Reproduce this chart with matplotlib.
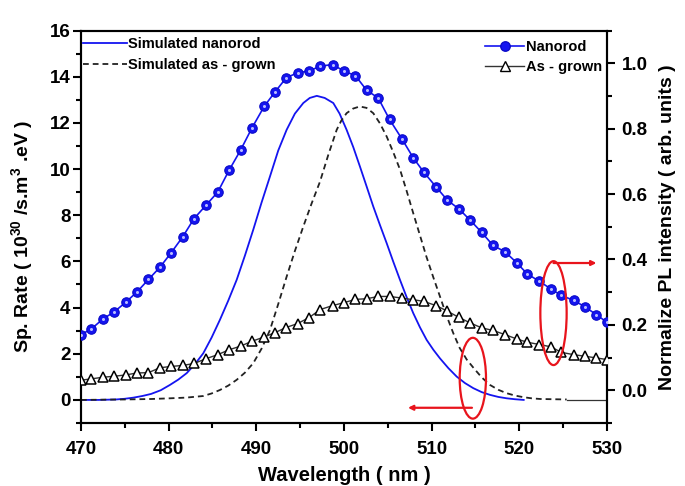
import matplotlib
matplotlib.use('Agg')
import matplotlib.pyplot as plt
from matplotlib.patches import Ellipse
from matplotlib.ticker import MultipleLocator, FormatStrFormatter
from matplotlib.lines import Line2D

plt.rcParams['font.family'] = ['Liberation Sans', 'DejaVu Sans']
plt.rcParams['font.weight'] = 'bold'
plt.rcParams['mathtext.fontset'] = 'custom'
plt.rcParams['mathtext.rm'] = 'Liberation Sans:bold'
plt.rcParams['mathtext.default'] = 'rm'

# ---------------- data ----------------
wl_exp = [470.0, 471.2, 472.5, 473.8, 475.1, 476.4, 477.7, 479.0, 480.3, 481.6,
          482.9, 484.3, 485.6, 486.9, 488.2, 489.5, 490.9, 492.1, 493.4, 494.7,
          496.0, 497.3, 498.7, 500.0, 501.3, 502.6, 503.9, 505.2, 506.6, 507.9,
          509.1, 510.5, 511.8, 513.1, 514.4, 515.7, 517.0, 518.4, 519.7, 520.9,
          522.3, 523.6, 524.8, 526.2, 527.5, 528.8, 530.0]

pl_nanorod = [0.170, 0.188, 0.218, 0.240, 0.269, 0.301, 0.339, 0.376, 0.421, 0.469,
              0.525, 0.567, 0.606, 0.673, 0.734, 0.802, 0.868, 0.911, 0.955, 0.971,
              0.976, 0.991, 0.996, 0.976, 0.962, 0.917, 0.894, 0.828, 0.769, 0.711,
              0.667, 0.622, 0.581, 0.555, 0.520, 0.483, 0.443, 0.423, 0.390, 0.356,
              0.333, 0.310, 0.290, 0.275, 0.255, 0.231, 0.208]

pl_asgrown = [0.031, 0.035, 0.040, 0.043, 0.047, 0.053, 0.054, 0.069, 0.073, 0.076,
              0.082, 0.097, 0.109, 0.124, 0.135, 0.150, 0.163, 0.176, 0.192, 0.204,
              0.222, 0.247, 0.259, 0.268, 0.278, 0.280, 0.287, 0.287, 0.282, 0.277,
              0.272, 0.259, 0.242, 0.223, 0.206, 0.191, 0.183, 0.170, 0.157, 0.147,
              0.140, 0.133, 0.116, 0.109, 0.104, 0.099, 0.094]

wl_sim_nr = [470.0, 472.0, 474.0, 475.0, 476.0, 477.0, 478.0, 479.1, 480.15, 481.1,
             482.06, 483.0, 483.95, 484.9, 485.85, 486.8, 487.76, 488.7, 489.65, 490.6,
             491.56, 492.5, 493.46, 494.4, 495.36, 496.1, 496.9, 497.8, 498.78, 499.5,
             500.3, 501.06, 501.82, 502.58, 503.34, 504.1, 504.87, 505.63, 506.39, 507.15,
             507.9, 508.66, 509.43, 510.2, 510.95, 511.9, 512.86, 513.8, 514.75, 515.7,
             516.65, 517.6, 518.56, 519.5, 520.5]
sim_nanorod = [0.0, 0.0, 0.02, 0.05, 0.10, 0.17, 0.26, 0.42, 0.65, 0.88,
               1.16, 1.55, 2.02, 2.70, 3.47, 4.30, 5.20, 6.25, 7.37, 8.55,
               9.68, 10.80, 11.70, 12.40, 12.86, 13.08, 13.17, 13.08, 12.86, 12.40,
               11.70, 10.95, 10.11, 9.25, 8.38, 7.58, 6.79, 5.98, 5.20, 4.45,
               3.76, 3.15, 2.60, 2.17, 1.80, 1.38, 1.01, 0.73, 0.51, 0.34,
               0.22, 0.13, 0.07, 0.03, 0.0]

wl_sim_ag = [470.0, 475.0, 478.0, 480.15, 482.0, 483.95, 484.9, 485.85, 486.8, 487.76,
             488.7, 489.65, 490.6, 491.56, 492.5, 493.46, 494.4, 495.36, 496.3, 497.26,
             498.2, 499.17, 499.7, 500.3, 501.05, 501.8, 502.57, 503.34, 504.1, 504.87,
             505.63, 506.4, 507.15, 507.9, 508.65, 509.4, 510.2, 510.95, 511.7, 512.47,
             513.2, 514.0, 514.75, 515.7, 516.65, 517.6, 518.56, 519.5, 520.45, 521.4,
             522.4, 525.4]
sim_asgrown = [0.0, 0.02, 0.04, 0.07, 0.10, 0.17, 0.28, 0.43, 0.62, 0.87,
               1.18, 1.59, 2.22, 3.03, 4.15, 5.34, 6.45, 7.51, 8.50, 9.45,
               10.60, 11.70, 12.10, 12.42, 12.62, 12.71, 12.65, 12.42, 11.98, 11.41,
               10.72, 9.97, 9.05, 8.09, 7.15, 6.21, 5.30, 4.48, 3.65, 2.89,
               2.25, 1.75, 1.40, 0.98, 0.65, 0.44, 0.29, 0.19, 0.12, 0.07,
               0.04, 0.02]

wl_base = [525.4, 530.0]
base_vals = [0.0, 0.0]

# annotation geometry (left-axis data units)
ell1 = dict(center=(514.7, 0.94), w=3.0, h=3.5)
ell2 = dict(center=(523.9, 3.76), w=3.0, h=4.5)
arrow1 = dict(start=(514.6, -0.34), end=(507.3, -0.34))
arrow2 = dict(start=(523.9, 5.93), end=(528.8, 5.93))

BLUE = '#1414f0'
RED = '#e8141c'

fig = plt.figure(figsize=(6.85, 4.86), dpi=100)
ax = fig.add_axes([0.1182, 0.1296, 0.7679, 0.8076])
ax2 = ax.twinx()

ax.plot(wl_sim_nr, sim_nanorod, color=BLUE, lw=1.3, zorder=3)
ax.plot(wl_sim_ag, sim_asgrown, color='#222222', lw=1.3, ls=(0, (3.2, 2.2)), zorder=3)
ax.plot(wl_base, base_vals, color='#333333', lw=0.9, zorder=2)

ax2.plot(wl_exp, pl_asgrown, color='#333333', lw=1.0, marker='^', ms=7,
         mfc='white', mec='black', mew=1.1, zorder=3)
ax2.plot(wl_exp, pl_nanorod, color=BLUE, lw=1.2, marker='o', ms=6.8,
         mfc=BLUE, mec='#0a0ac8', mew=0.8, zorder=4)
ax2.plot(wl_exp, pl_nanorod, ls='none', marker='o', ms=2.2,
         mfc='#b8bcff', mec='none', zorder=5)

ax.set_xlim(470, 530)
ax.set_ylim(-1, 16)
ax2.set_ylim(-0.1, 1.1)

ax.xaxis.set_major_locator(MultipleLocator(10))
ax.xaxis.set_minor_locator(MultipleLocator(5))
ax.yaxis.set_major_locator(MultipleLocator(2))
ax.yaxis.set_minor_locator(MultipleLocator(1))
ax2.yaxis.set_major_locator(MultipleLocator(0.2))
ax2.yaxis.set_minor_locator(MultipleLocator(0.1))
ax2.yaxis.set_major_formatter(FormatStrFormatter('%.1f'))

for a in (ax, ax2):
    for s in a.spines.values():
        s.set_linewidth(1.5)
ax.tick_params(axis='both', which='both', direction='out', width=1.5, labelsize=13.5)
ax.tick_params(which='major', length=6)
ax.tick_params(which='minor', length=3.5)
ax.tick_params(axis='x', pad=7)
ax.tick_params(axis='y', pad=1.5)
ax2.tick_params(axis='y', which='both', direction='out', width=1.5, labelsize=13.5, pad=4.5)
ax2.tick_params(axis='y', which='major', length=6)
ax2.tick_params(axis='y', which='minor', length=3.5)
for lab in ax.get_xticklabels() + ax.get_yticklabels() + ax2.get_yticklabels():
    lab.set_fontweight('bold')

ax.set_xlabel('Wavelength ( nm )', fontsize=14.5, fontweight='bold', labelpad=6)
ax.set_ylabel('Sp. Rate ( 10$^{30}$ /s.m$^{3}$ .eV )', fontsize=14, fontweight='bold')
ax.yaxis.set_label_coords(-0.088, 0.475)
ax2.set_ylabel('Normalize PL intensity ( arb. units )', fontsize=14, fontweight='bold', labelpad=8)

# legends
h1 = [Line2D([], [], color=BLUE, lw=1.3),
      Line2D([], [], color='#222222', lw=1.3, ls=(0, (3.2, 2.2)))]
leg1 = fig.legend(h1, ['Simulated nanorod', 'Simulated as - grown'], loc='center left',
                  bbox_to_anchor=(83 / 685, 1 - 54.6 / 486), frameon=False,
                  prop={'size': 10.5, 'weight': 'bold'}, handlelength=3.0,
                  handletextpad=0.1, borderpad=0, borderaxespad=0, labelspacing=0.45)
h2 = [Line2D([], [], color=BLUE, lw=1.2, marker='o', ms=6.8, mfc=BLUE, mec='#0a0ac8'),
      Line2D([], [], color='#333333', lw=1.0, marker='^', ms=7, mfc='white', mec='black')]
leg2 = fig.legend(h2, ['Nanorod', 'As - grown'], loc='center right',
                  bbox_to_anchor=(602 / 685, 1 - 57.2 / 486), frameon=False,
                  prop={'size': 10.5, 'weight': 'bold'}, handlelength=2.7,
                  handletextpad=0.1, borderpad=0, borderaxespad=0, labelspacing=0.45,
                  numpoints=1)

# red annotations
for e in (ell1, ell2):
    p = Ellipse(e['center'], e['w'], e['h'], transform=ax.transData, fill=False,
                ec=RED, lw=1.6, zorder=6)
    ax2.add_patch(p)
for ar in (arrow1, arrow2):
    ax2.annotate('', xy=ar['end'], xytext=ar['start'], xycoords=ax.transData,
                 textcoords=ax.transData,
                 arrowprops=dict(arrowstyle='-|>', color=RED, lw=1.6, mutation_scale=7,
                                 shrinkA=0, shrinkB=0), zorder=6)

fig.savefig('out.png', dpi=100)
